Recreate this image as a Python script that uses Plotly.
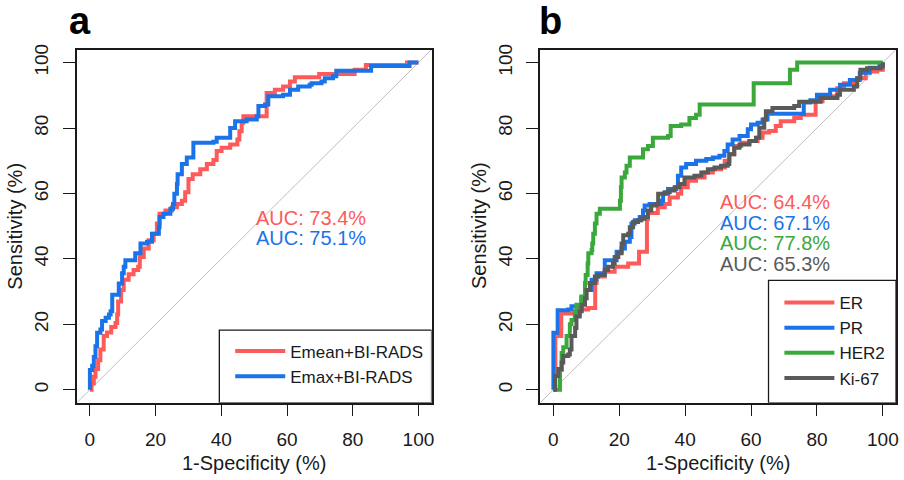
import plotly.graph_objects as go

# ---------------- data ----------------
# Panel a
emean_fpr = [0, 0.5, 1.2, 1.7, 2.5, 3.2, 4.2, 5.2, 6.5, 7.8, 8.3, 8.6, 9.5, 10.3, 11.8, 13.3, 14.7, 15.2,
             16.4, 17.9, 19.4, 20.4, 21.2, 23.0, 25.0, 26.5, 28.0, 29.0, 30.0, 31.3, 33.6, 35.6, 37.6, 38.6,
             40.1, 42.7, 44.9, 45.5, 46.2, 46.7, 53.8, 56.3, 58.8, 60.9, 62.4, 69.8, 80.6, 84.0, 96.5, 100]
emean_tpr = [0, 2.0, 4.0, 6.3, 9.0, 12.3, 16.4, 17.5, 19.2, 20.4, 23.0, 27.0, 30.5, 33.6, 35.3, 36.6, 37.6, 40.6,
             43.2, 45.7, 47.7, 50.8, 53.8, 54.8, 55.8, 56.8, 57.8, 60.4, 64.4, 65.9, 67.4, 69.0, 70.2, 73.0,
             74.0, 75.0, 76.5, 79.0, 81.6, 83.6, 90.7, 91.7, 92.7, 94.2, 95.5, 96.5, 97.8, 99.3, 100, 100]

emax_fpr = [0, 0.7, 1.2, 1.7, 2.2, 3.2, 3.7, 4.8, 5.8, 6.3, 6.8, 8.3, 8.8, 9.8, 10.3, 10.8, 13.3, 13.8,
            15.4, 17.4, 18.9, 21.0, 21.2, 22.4, 24.5, 25.3, 25.7, 26.5, 26.7, 28.0, 29.5, 31.5, 37.6, 38.6,
            41.7, 42.7, 44.2, 47.7, 50.8, 51.3, 53.3, 54.3, 58.8, 60.9, 63.4, 66.9, 67.5, 70.5, 71.5, 74.0,
            75.0, 85.6, 97.3, 100]
emax_tpr = [6.0, 7.3, 10.0, 13.3, 17.4, 18.4, 21.0, 22.0, 23.0, 24.0, 29.0, 29.0, 32.5, 35.6, 37.6, 39.6, 39.6, 41.7,
            44.7, 45.2, 47.7, 49.7, 52.8, 53.8, 55.3, 56.8, 59.9, 62.9, 65.9, 69.0, 71.0, 75.5, 75.8, 77.0,
            77.0, 80.0, 82.1, 82.6, 83.6, 86.7, 87.2, 89.7, 90.2, 91.7, 92.7, 93.2, 93.7, 94.2, 95.2, 95.8,
            97.5, 99.0, 100, 100]

# Panel b
er_fpr = [0, 0.6, 2.4, 8.0, 10.6, 12.7, 13.1, 15.6, 18.6, 22.7, 26.0, 28.4, 28.7, 31.7, 33.8, 35.3, 37.8,
          38.8, 40.8, 43.3, 45.9, 48.4, 50.9, 52.0, 53.4, 54.9, 57.0, 59.5, 62.0, 63.5, 65.5, 67.5, 69.0,
          73.1, 75.1, 79.6, 81.7, 86.2, 88.2, 92.2, 94.8, 98.3, 100]
er_tpr = [0, 16.4, 23.3, 24.5, 25.0, 32.6, 34.6, 36.1, 37.6, 38.6, 42.2, 52.2, 54.0, 55.8, 56.8, 58.8, 59.9,
          61.9, 63.9, 64.9, 66.4, 67.4, 67.9, 70.0, 72.0, 74.5, 75.5, 76.0, 77.0, 78.6, 79.1, 80.6, 82.1,
          83.1, 84.1, 88.2, 89.7, 92.2, 93.7, 95.2, 97.3, 97.8, 100]

pr_fpr = [0, 1.3, 4.5, 5.5, 8.5, 9.6, 11.6, 13.1, 15.6, 18.6, 19.2, 20.7, 21.7, 23.2, 23.7, 24.7, 26.2,
          27.2, 27.7, 29.2, 32.8, 33.3, 34.8, 37.3, 37.8, 38.8, 40.3, 43.3, 46.4, 48.4, 50.4, 51.9, 52.9,
          54.4, 56.5, 59.0, 60.0, 62.0, 63.5, 65.0, 76.0, 78.0, 80.0, 84.0, 87.0, 90.0, 93.0, 96.0, 99.0, 100]
pr_tpr = [17.4, 24.3, 24.5, 25.5, 28.0, 30.5, 33.6, 35.6, 39.6, 39.6, 42.2, 43.2, 45.2, 46.7, 50.8, 51.8, 52.8,
          54.8, 56.3, 56.8, 57.8, 59.9, 61.4, 61.9, 65.4, 67.9, 69.0, 70.0, 70.5, 71.0, 71.5, 73.0, 75.0,
          76.5, 77.6, 79.6, 81.1, 81.6, 82.6, 84.4, 87.8, 88.5, 90.2, 91.7, 93.2, 94.7, 96.9, 98.4, 99.5, 100]

her2_fpr = [0, 2.0, 2.5, 3.0, 4.0, 5.0, 5.5, 6.5, 7.0, 8.5, 9.6, 9.8, 10.4, 10.6, 11.6, 11.8, 12.1, 12.6,
            13.1, 14.1, 19.7, 20.2, 20.5, 20.7, 21.7, 22.2, 23.2, 26.7, 27.2, 28.7, 30.2, 34.8, 35.6, 38.8,
            41.3, 43.3, 44.4, 60.4, 60.8, 71.3, 71.8, 73.5, 74.0, 100]
her2_tpr = [0, 6.0, 11.2, 13.0, 16.4, 20.0, 21.3, 24.0, 26.0, 28.5, 32.6, 35.1, 38.6, 41.7, 42.7, 44.7, 47.7, 50.8,
            53.8, 55.3, 55.3, 57.8, 61.9, 64.9, 66.4, 68.5, 71.0, 71.0, 73.5, 74.5, 77.0, 77.6, 80.6, 81.1,
            83.1, 84.1, 87.2, 87.2, 93.7, 93.7, 97.8, 97.8, 100, 100]

ki67_fpr = [0, 0.5, 1.5, 2.5, 3.0, 4.5, 5.0, 5.5, 6.6, 7.0, 8.0, 8.6, 9.6, 10.1, 11.1, 12.6, 13.6, 15.6,
            16.6, 18.1, 18.6, 19.7, 20.7, 21.2, 22.7, 23.2, 24.2, 25.7, 26.7, 27.7, 28.7, 29.7, 31.3, 31.8,
            33.8, 35.3, 36.8, 38.3, 39.8, 42.8, 44.9, 46.9, 48.9, 50.9, 52.9, 53.4, 54.9, 56.5, 59.5, 61.5,
            62.5, 64.0, 64.5, 66.5, 73.1, 74.6, 81.1, 86.2, 87.0, 91.2, 92.2, 93.2, 95.2, 99.3, 100]
ki67_tpr = [0, 4.2, 6.3, 8.3, 10.3, 10.8, 12.3, 16.4, 18.9, 22.4, 24.0, 26.0, 28.0, 30.5, 32.6, 34.6, 35.1, 36.6,
            37.6, 38.6, 40.6, 41.7, 44.7, 47.2, 47.7, 49.7, 51.3, 51.8, 52.3, 52.8, 54.8, 56.3, 56.8, 59.9,
            60.4, 60.9, 61.9, 62.9, 64.9, 65.4, 66.4, 67.4, 67.9, 68.5, 69.0, 72.0, 74.0, 75.0, 76.0, 77.0,
            80.1, 82.6, 85.1, 86.1, 86.7, 88.0, 89.2, 90.2, 91.7, 92.7, 95.2, 97.8, 98.3, 98.8, 100]

a_names = ["Emean+BI-RADS", "Emax+BI-RADS"]
a_auc = ["AUC: 73.4%", "AUC: 75.1%"]
b_names = ["ER", "PR", "HER2", "Ki-67"]
b_auc = ["AUC: 64.4%", "AUC: 67.1%", "AUC: 77.8%", "AUC: 65.3%"]
tick_vals = [0, 20, 40, 60, 80, 100]
tick_text = ["0", "20", "40", "60", "80", "100"]

# ---------------- style ----------------
RED, BLUE, GREEN, GRAY = "#FF5A5A", "#1A73E8", "#3AA83A", "#5A5A5A"
FONT = "Liberation Sans, Arial, sans-serif"
INK = "#1a1a1a"
LW = 4

fig = go.Figure()

a_series = [(emean_fpr, emean_tpr, RED), ([0] + emax_fpr, [0] + emax_tpr, BLUE)]
for (xs, ys, col), nm in zip(a_series, a_names):
    fig.add_trace(go.Scatter(x=xs, y=ys, mode="lines", name=nm, line=dict(color=col, width=LW, shape="hv"),
                             xaxis="x", yaxis="y", legend="legend", hoverinfo="skip"))

b_series = [(er_fpr, er_tpr, RED), ([0] + pr_fpr, [0] + pr_tpr, BLUE),
            (her2_fpr, her2_tpr, GREEN), (ki67_fpr, ki67_tpr, GRAY)]
for (xs, ys, col), nm in zip(b_series, b_names):
    fig.add_trace(go.Scatter(x=xs, y=ys, mode="lines", name=nm, line=dict(color=col, width=LW, shape="hv"),
                             xaxis="x2", yaxis="y2", legend="legend2", hoverinfo="skip"))

W, H = 904, 480
ax_common = dict(range=[-4, 104], showgrid=False, zeroline=False, showline=True, mirror=True,
                 linecolor=INK, linewidth=1.5, ticks="outside", tickcolor=INK, tickwidth=1.3,
                 tickvals=tick_vals, ticktext=tick_text, tickfont=dict(family=FONT, size=19, color=INK))
ydom = [1 - 402 / H, 1 - 45 / H]
fig.update_layout(
    width=W, height=H, autosize=False, margin=dict(l=0, r=0, t=0, b=0),
    paper_bgcolor="white", plot_bgcolor="white", font=dict(family=FONT, color=INK),
    xaxis=dict(ax_common, domain=[77 / W, 433 / W], anchor="y", ticklen=11, ticklabelstandoff=8),
    yaxis=dict(ax_common, domain=ydom, anchor="x", ticklen=12, tickangle=-90, ticklabelstandoff=7),
    xaxis2=dict(ax_common, domain=[542 / W, 899 / W], anchor="y2", ticklen=11, ticklabelstandoff=8),
    yaxis2=dict(ax_common, domain=ydom, anchor="x2", ticklen=12, tickangle=-90, ticklabelstandoff=7),
    legend=dict(x=231 / W, y=1 - 332 / H, xanchor="left", yanchor="top", bgcolor="rgba(0,0,0,0)",
                borderwidth=0, itemwidth=50, font=dict(family=FONT, size=17, color=INK)),
    legend2=dict(x=782 / W, y=1 - 283 / H, xanchor="left", yanchor="top", bgcolor="rgba(0,0,0,0)",
                 borderwidth=0, itemwidth=50, font=dict(family=FONT, size=17, color=INK)),
    showlegend=True,
)

# diagonal reference lines and legend boxes
for xr, yr in (("x", "y"), ("x2", "y2")):
    fig.add_shape(type="line", xref=xr, yref=yr, x0=-4, y0=-4, x1=104, y1=104,
                  line=dict(color="#BEBEBE", width=1), layer="below")
fig.add_shape(type="rect", xref="x", yref="y", x0=39.4, x1=104, y0=-4, y1=18.2,
              line=dict(color=INK, width=1.3), fillcolor="rgba(0,0,0,0)")
fig.add_shape(type="rect", xref="x2", yref="y2", x0=65.3, x1=104, y0=-4, y1=33.4,
              line=dict(color=INK, width=1.3), fillcolor="rgba(0,0,0,0)")

# AUC texts
for txt, yy, col in zip(a_auc, [52.5, 46.5], [RED, BLUE]):
    fig.add_annotation(x=50, y=yy, xref="x", yref="y", text=txt, showarrow=False, xanchor="left",
                       yanchor="middle", font=dict(family=FONT, size=20, color=col))
for txt, yy, col in zip(b_auc, [57.3, 51.0, 45.0, 38.3], [RED, BLUE, GREEN, GRAY]):
    fig.add_annotation(x=50, y=yy, xref="x2", yref="y2", text=txt, showarrow=False, xanchor="left",
                       yanchor="middle", font=dict(family=FONT, size=20, color=col))

# axis titles
for cx in (255, 720.5):
    fig.add_annotation(x=cx / W, y=1 - 463 / H, xref="paper", yref="paper", text="1-Specificity (%)",
                       showarrow=False, xanchor="center", yanchor="middle", font=dict(family=FONT, size=20, color=INK))
for cx in (15, 480):
    fig.add_annotation(x=cx / W, y=1 - 223 / H, xref="paper", yref="paper", text="Sensitivity (%)",
                       textangle=-90, showarrow=False, xanchor="center", yanchor="middle",
                       font=dict(family=FONT, size=20, color=INK))

# panel labels
for lab, cx in (("a", 80), ("b", 552)):
    fig.add_annotation(x=cx / W, y=1 - 16 / H, xref="paper", yref="paper", text="<b>" + lab + "</b>",
                       showarrow=False, xanchor="center", yanchor="middle",
                       font=dict(family=FONT, size=38, color="black"))

# the page's default 8px body margin would shift the 904x480 figure; remove it
fig.write_html("out.html", config={"displayModeBar": False},
               post_script="document.body.style.margin='0px';")
